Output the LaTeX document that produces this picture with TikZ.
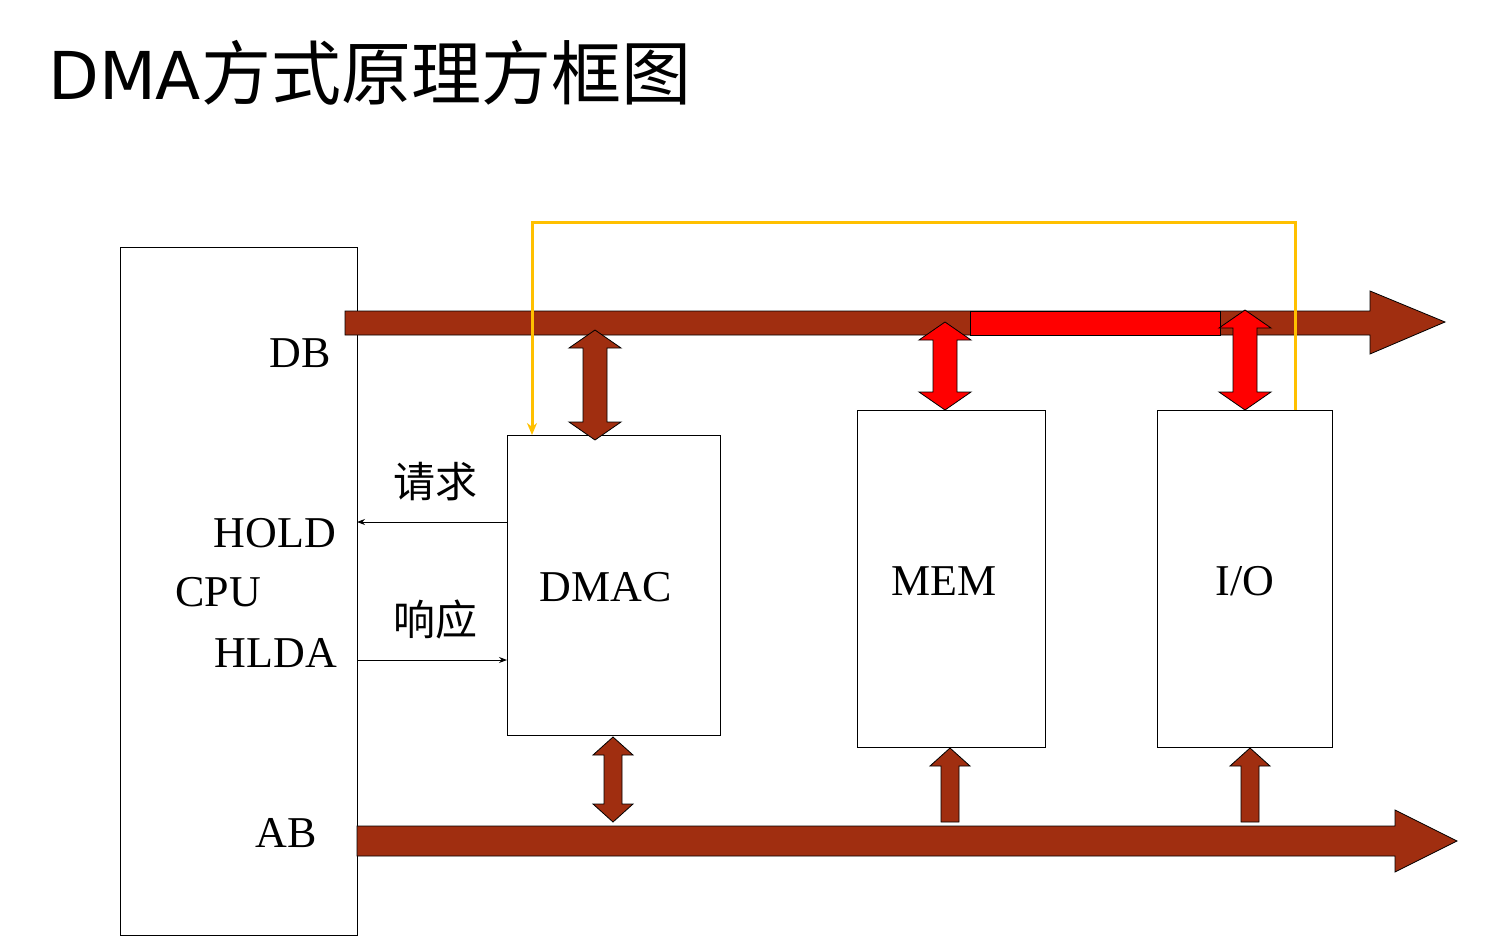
\documentclass[tikz,border=0pt]{standalone}
\usepackage{fontspec}
\setmainfont{Liberation Serif}
\newfontfamily\cjk{Noto Sans CJK SC}
\newfontfamily\ttl{DejaVu Sans}
\usetikzlibrary{arrows.meta}
\definecolor{bus}{RGB}{160,46,16}
\definecolor{hot}{RGB}{255,0,0}
\definecolor{yel}{RGB}{255,192,0}
\newcommand{\vdbl}[6]{% x, ytop, ybot, halfshaft, halfhead, headlen, color via #6
  \filldraw[#6,draw=black,line width=0.8pt] (#1,#2) -- (#1+#5,#2+18) -- (#1+#4,#2+18) -- (#1+#4,#3-18) -- (#1+#5,#3-18) -- (#1,#3) -- (#1-#5,#3-18) -- (#1-#4,#3-18) -- (#1-#4,#2+18) -- (#1-#5,#2+18) -- cycle;}
\newcommand{\vup}[5]{% x, ytop, ybot, halfshaft, halfhead
  \filldraw[fill=bus,draw=black,line width=0.8pt] (#1,#2) -- (#1+#5,#2+18) -- (#1+#4,#2+18) -- (#1+#4,#3) -- (#1-#4,#3) -- (#1-#4,#2+18) -- (#1-#5,#2+18) -- cycle;}
\begin{document}
\begin{tikzpicture}[x=1pt,y=-1pt,
  box/.style={draw=black,line width=1pt,fill=white},
  lbl/.style={font=\fontsize{44}{48}\selectfont,inner sep=0pt},
  zh/.style={font=\cjk\fontsize{42}{46}\selectfont,inner sep=0pt},
  sig/.style={-{Stealth[length=8pt,width=6pt]},line width=1pt}]
\useasboundingbox (0,0) rectangle (1493,936);
\node[anchor=west,inner sep=0pt] (title) at (48,73) {\fontsize{70}{74}\selectfont{\ttl\fontsize{66}{70}\selectfont DMA}{\cjk 方式原理方框图}};
% CPU
\draw[line width=1pt] (120,247) rectangle (357,935);
\node[coordinate] (cpu) at (357,590) {};
% DB bus
\filldraw[fill=bus,draw=black,line width=0.8pt] (345,311) -- (1370,311) -- (1370,291) -- (1445,322) -- (1370,354) -- (1370,335) -- (345,335) -- cycle;
\filldraw[fill=hot,draw=black,line width=0.8pt] (970,311) rectangle (1220,335);
% AB bus
\filldraw[fill=bus,draw=black,line width=0.8pt] (357,826) -- (1395,826) -- (1395,810) -- (1457,841) -- (1395,872) -- (1395,856) -- (357,856) -- cycle;
% boxes
\node[box,minimum width=213pt,minimum height=300pt,anchor=north west] (dmac) at (507,435) {};
\node[box,minimum width=188pt,minimum height=337pt,anchor=north west] (mem) at (857,410) {};
\node[box,minimum width=175pt,minimum height=337pt,anchor=north west] (io) at (1157,410) {};
\node[lbl] at (606,587) {DMAC};
\node[lbl] at (944,581) {MEM};
\node[lbl] at (1245,581) {I/O};
% arrows
\vdbl{595}{330}{440}{12}{26}{fill=bus}
\vdbl{945}{322}{410}{12}{26}{fill=hot}
\vdbl{1245}{310}{410}{12}{26}{fill=hot}
\vdbl{613}{737}{822}{9}{20}{fill=bus}
\vup{950}{748}{822}{9}{20}
\vup{1250}{748}{822}{9}{20}
% yellow path
\coordinate (y1) at (532,222);
\coordinate (y2) at (1295,222);
\draw[yel,line width=3pt,-{Stealth[length=12pt,width=10pt]}] (io.north -| y2) -- (y2) -- (y1) -- (dmac.north -| y1);
% signals
\draw[sig] (dmac.west |- 0,522) -- (357,522);
\draw[sig] (357,660) -- (dmac.west |- 0,660);
% labels
\node[lbl] at (300,353) {DB};
\node[lbl] at (275,533) {HOLD};
\node[lbl] at (218,592) {CPU};
\node[lbl] at (276,653) {HLDA};
\node[lbl] at (286,833) {AB};
\node[zh] at (435,482) {请求};
\node[zh] at (435,620) {响应};
\end{tikzpicture}
\end{document}
